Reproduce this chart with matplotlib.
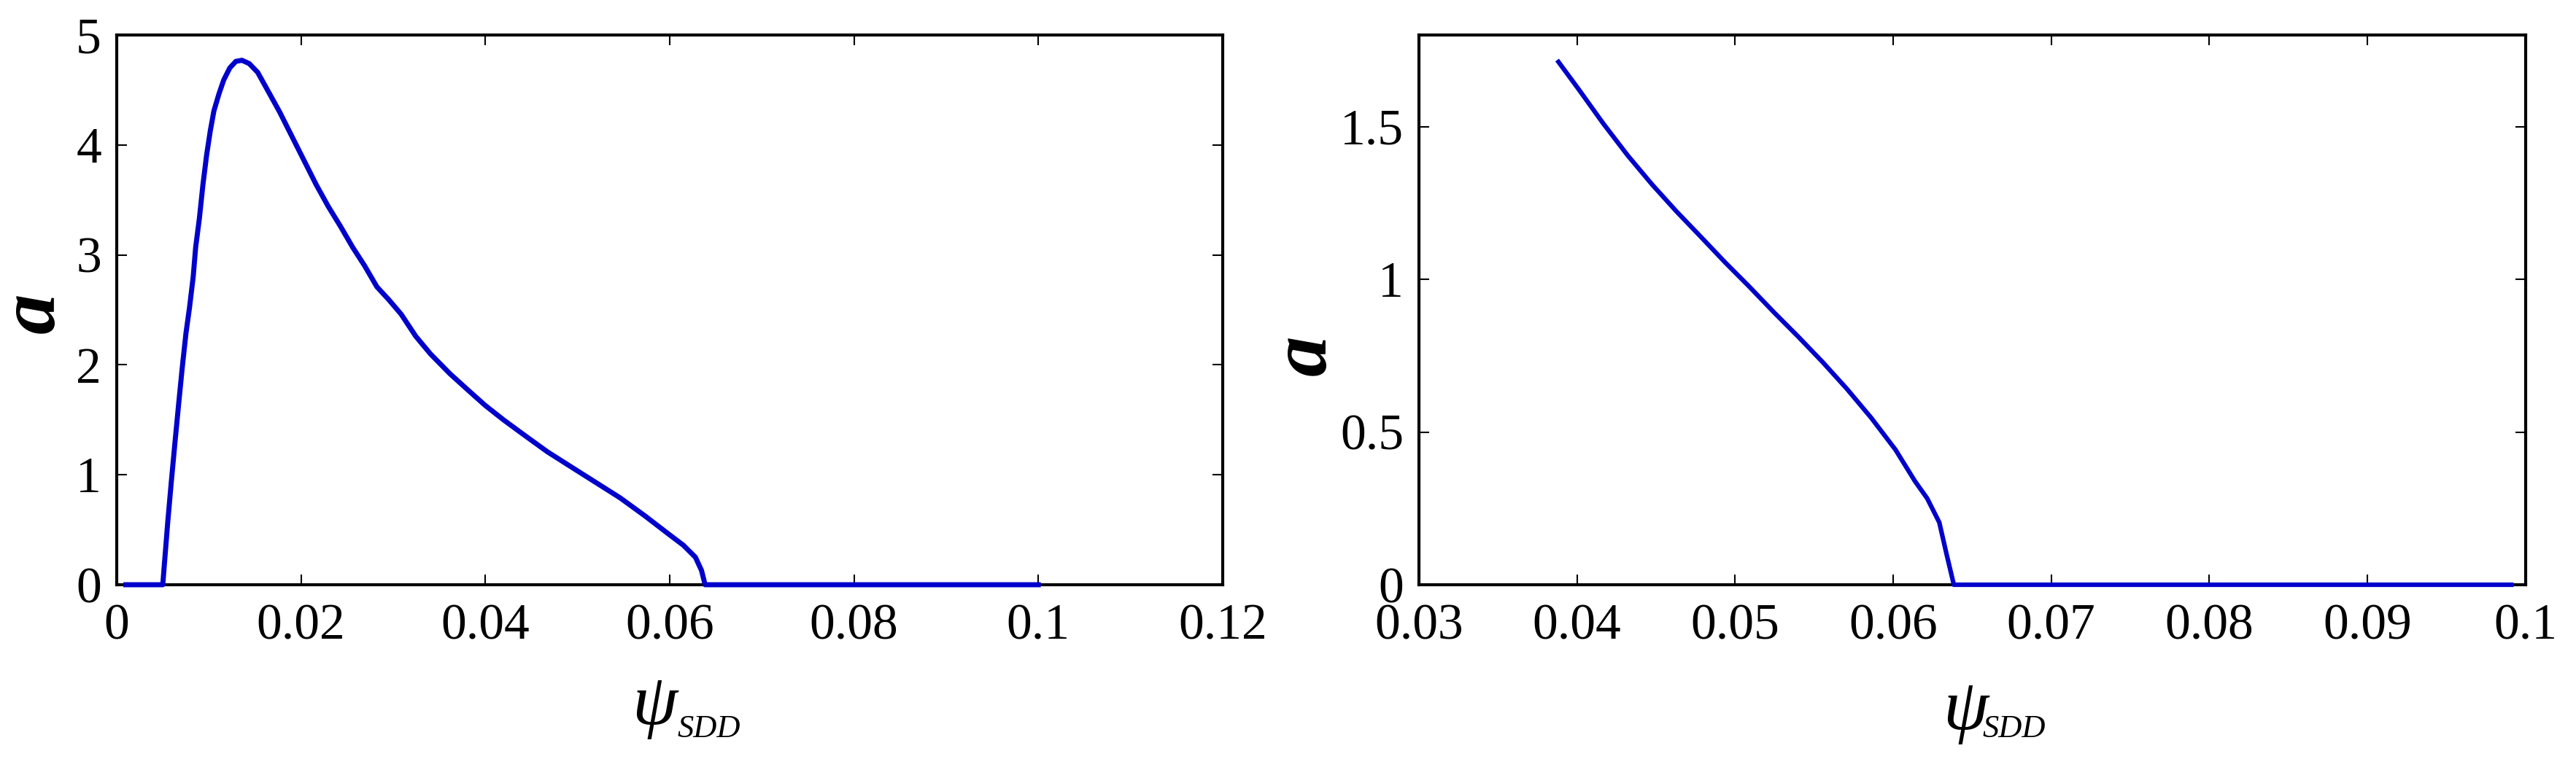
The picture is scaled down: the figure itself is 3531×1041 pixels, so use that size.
import matplotlib
matplotlib.use("Agg")
import matplotlib.pyplot as plt

# left panel: a vs psi_SDD over the full range
left_psi = [0.001, 0.0050, 0.00514, 0.00554, 0.00593, 0.00633, 0.00673, 0.00712,
            0.00752, 0.0079, 0.0083, 0.00857, 0.00897, 0.00936, 0.00976, 0.01016,
            0.01055, 0.01108, 0.01161, 0.01227, 0.01293, 0.01359, 0.01438, 0.0153,
            0.01636, 0.01768, 0.019, 0.02032, 0.02164, 0.02296, 0.02428, 0.0256,
            0.02691, 0.02823, 0.02955, 0.03087, 0.03245, 0.03404, 0.03615, 0.03826,
            0.04, 0.04197, 0.04408, 0.04672, 0.04935, 0.05199, 0.05463, 0.05726,
            0.0599, 0.06148, 0.0628, 0.06346, 0.06385, 0.1]
left_a = [0, 0, 0.15, 0.57, 0.94, 1.30, 1.65, 1.98,
          2.29, 2.52, 2.80, 3.07, 3.33, 3.64, 3.91, 4.13,
          4.31, 4.46, 4.59, 4.70, 4.76, 4.77, 4.74, 4.66,
          4.50, 4.30, 4.08, 3.86, 3.64, 3.44, 3.26, 3.07,
          2.90, 2.71, 2.59, 2.46, 2.26, 2.10, 1.92, 1.76,
          1.63, 1.50, 1.37, 1.21, 1.07, 0.93, 0.79, 0.63,
          0.46, 0.36, 0.25, 0.13, 0.0, 0.0]

# right panel: zoom on the decaying branch
right_psi = [0.03883, 0.04014, 0.04168, 0.04322, 0.04476, 0.0463, 0.04784, 0.04938,
             0.05092, 0.05246, 0.054, 0.05554, 0.05708, 0.05862, 0.06015, 0.06138,
             0.06215, 0.06292, 0.06338, 0.06384, 0.0991]
right_a = [1.712, 1.62, 1.509, 1.405, 1.31, 1.222, 1.139, 1.055,
           0.975, 0.892, 0.812, 0.729, 0.641, 0.546, 0.442, 0.339,
           0.283, 0.204, 0.10, 0.0, 0.0]

left_xticks = [0, 0.02, 0.04, 0.06, 0.08, 0.1, 0.12]
left_xlabels = ["0", "0.02", "0.04", "0.06", "0.08", "0.1", "0.12"]
left_yticks = [0, 1, 2, 3, 4, 5]
left_ylabels = ["0", "1", "2", "3", "4", "5"]
right_xticks = [0.03, 0.04, 0.05, 0.06, 0.07, 0.08, 0.09, 0.1]
right_xlabels = ["0.03", "0.04", "0.05", "0.06", "0.07", "0.08", "0.09", "0.1"]
right_yticks = [0, 0.5, 1, 1.5]
right_ylabels = ["0", "0.5", "1", "1.5"]

plt.rcParams["font.family"] = ["Liberation Serif", "DejaVu Serif"]

fig = plt.figure(figsize=(35.31, 10.41), dpi=100)
ax1 = fig.add_axes([0.0453, 0.2296, 0.4293, 0.7243])
ax2 = fig.add_axes([0.5508, 0.2296, 0.4296, 0.7243])

line_color = "#0000CC"


def style(ax, xticks, xlabels, yticks, ylabels, xlim, ylim):
    ax.set_xlim(*xlim)
    ax.set_ylim(*ylim)
    ax.set_xticks(xticks)
    ax.set_xticklabels(xlabels)
    ax.set_yticks(yticks)
    ax.set_yticklabels(ylabels)
    ax.tick_params(direction="in", length=10, width=1.5, top=True, right=True,
                   labelsize=50)
    ax.tick_params(axis="x", pad=19)
    ax.tick_params(axis="y", pad=15)
    for s in ax.spines.values():
        s.set_linewidth(3)


ax1.plot(left_psi, left_a, color=line_color, lw=5, clip_on=False, zorder=5)
style(ax1, left_xticks, left_xlabels, left_yticks, left_ylabels, (0, 0.12), (0, 5))

ax2.plot(right_psi, right_a, color=line_color, lw=4.5, clip_on=False, zorder=5)
style(ax2, right_xticks, right_xlabels, right_yticks, right_ylabels, (0.03, 0.1), (0, 1.8))

# axis labels drawn by hand: big italic psi with small italic subscript
for ax, px, py, sx, sy, ax_a, ay_a in [(ax1, 0.486, -0.221, 0.507, -0.262, -0.0745, 0.495),
                                       (ax2, 0.494, -0.231, 0.509, -0.262, -0.102, 0.418)]:
    ax.text(px, py, "ψ", transform=ax.transAxes, fontsize=72, style="italic",
            ha="center", va="center")
    ax.text(sx, sy, "SDD", transform=ax.transAxes, fontsize=32, style="italic",
            ha="left", va="center")
    ax.text(ax_a, ay_a, "a", transform=ax.transAxes, fontsize=80, style="italic",
            fontweight="bold", rotation=90, ha="center", va="center")

fig.savefig("out.png", dpi=100)
